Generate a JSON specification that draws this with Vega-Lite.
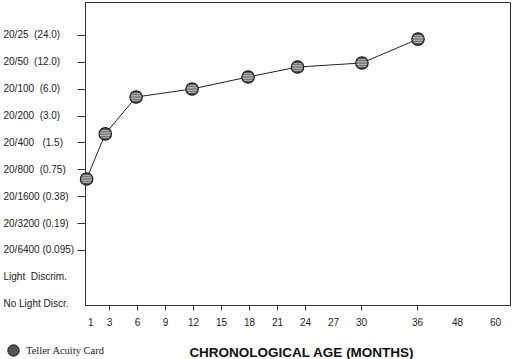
{
  "$schema": "https://vega.github.io/schema/vega-lite/v6.json",
  "width": 425,
  "height": 303,
  "autosize": {"type": "none"},
  "padding": {"left": 85, "top": 2, "right": 4, "bottom": 54},
  "background": "white",
  "config": {
    "view": {"stroke": "#333", "strokeWidth": 1},
    "font": "Liberation Sans",
    "axis": {"grid": false, "domainColor": "#333", "tickColor": "#333", "labelColor": "#222", "labelFont": "Liberation Sans", "labelFontSize": 10}
  },
  "data": {
    "values": [
      {"age": 0.6, "acuity": 0.585, "series": "Teller Acuity Card"},
      {"age": 2.6, "acuity": 1.87, "series": "Teller Acuity Card"},
      {"age": 5.9, "acuity": 4.85, "series": "Teller Acuity Card"},
      {"age": 11.9, "acuity": 5.96, "series": "Teller Acuity Card"},
      {"age": 17.9, "acuity": 8.12, "series": "Teller Acuity Card"},
      {"age": 23.2, "acuity": 10.5, "series": "Teller Acuity Card"},
      {"age": 30.1, "acuity": 11.66, "series": "Teller Acuity Card"},
      {"age": 36.3, "acuity": 21.6, "series": "Teller Acuity Card"}
    ]
  },
  "encoding": {
    "x": {
      "field": "age", "type": "quantitative",
      "scale": {"domain": [0.43, 36, 48, 60, 64.7], "range": [0, 332, 372, 410, 425], "nice": false, "zero": false},
      "axis": {
        "values": [1, 3, 6, 9, 12, 15, 18, 21, 24, 27, 30, 36, 48, 60],
        "title": "CHRONOLOGICAL AGE (MONTHS)",
        "titleFont": "Liberation Sans", "titleFontSize": 13.5, "titleFontWeight": "bold", "titleColor": "#111",
        "titleX": 216, "titleY": 51, "titleAlign": "center", "titleBaseline": "alphabetic",
        "tickSize": 5, "labelPadding": 7, "labelFlush": false, "labelOverlap": false,
        "tickOpacity": {"condition": {"test": "datum.value == 1 || datum.value == 27 || datum.value >= 48", "value": 0}, "value": 1}
      }
    },
    "y": {
      "field": "acuity", "type": "quantitative",
      "scale": {"type": "log", "base": 2, "domain": [0.02268, 56.2], "nice": false, "zero": false},
      "axis": {
        "values": [24, 12, 6, 3, 1.5, 0.75, 0.375, 0.1875, 0.09375, 0.046875, 0.0234375],
        "title": null, "tickSize": 8, "labelAlign": "left", "labelPadding": 74, "labelOverlap": false, "labelFlush": false,
        "labelExpr": "datum.value > 20 ? '20/25\u00a0\u00a0(24.0)' : datum.value > 10 ? '20/50\u00a0\u00a0(12.0)' : datum.value > 5 ? '20/100\u00a0\u00a0(6.0)' : datum.value > 2 ? '\u00a020/200\u00a0\u00a0(3.0)' : datum.value > 1 ? '\u00a020/400\u00a0\u00a0\u00a0(1.5)' : datum.value > 0.5 ? '20/800\u00a0\u00a0(0.75)' : datum.value > 0.3 ? '20/1600 (0.38)' : datum.value > 0.15 ? '20/3200 (0.19)' : datum.value > 0.07 ? '20/6400 (0.095)' : datum.value > 0.04 ? 'Light\u00a0\u00a0Discrim.' : 'No Light Discr.'",
        "tickOpacity": {"condition": {"test": "datum.value < 0.06", "value": 0}, "value": 1}
      }
    }
  },
  "layer": [
    {"mark": {"type": "line", "color": "#222", "strokeWidth": 1}},
    {
      "mark": {"type": "point", "shape": "circle", "filled": true, "size": 155, "stroke": "#1a1a1a", "strokeWidth": 1.2, "opacity": 1},
      "encoding": {
        "color": {
          "field": "series", "type": "nominal",
          "scale": {"range": ["#555555"]},
          "legend": {"title": null, "orient": "none", "legendX": -78, "legendY": 342, "symbolType": "circle", "symbolSize": 130, "symbolStrokeColor": "#1a1a1a", "symbolStrokeWidth": 1, "labelFont": "Liberation Serif", "labelFontSize": 10.5, "labelColor": "#222", "labelOffset": 6, "padding": 0}
        }
      }
    },
    {"mark": {"type": "point", "shape": "M-0.75,-0.6L0.75,-0.6M-0.95,-0.3L0.95,-0.3M-1,0L1,0M-0.95,0.3L0.95,0.3M-0.75,0.6L0.75,0.6", "filled": false, "size": 120, "stroke": "#c8c8c8", "strokeWidth": 0.9, "opacity": 1}}
  ]
}
